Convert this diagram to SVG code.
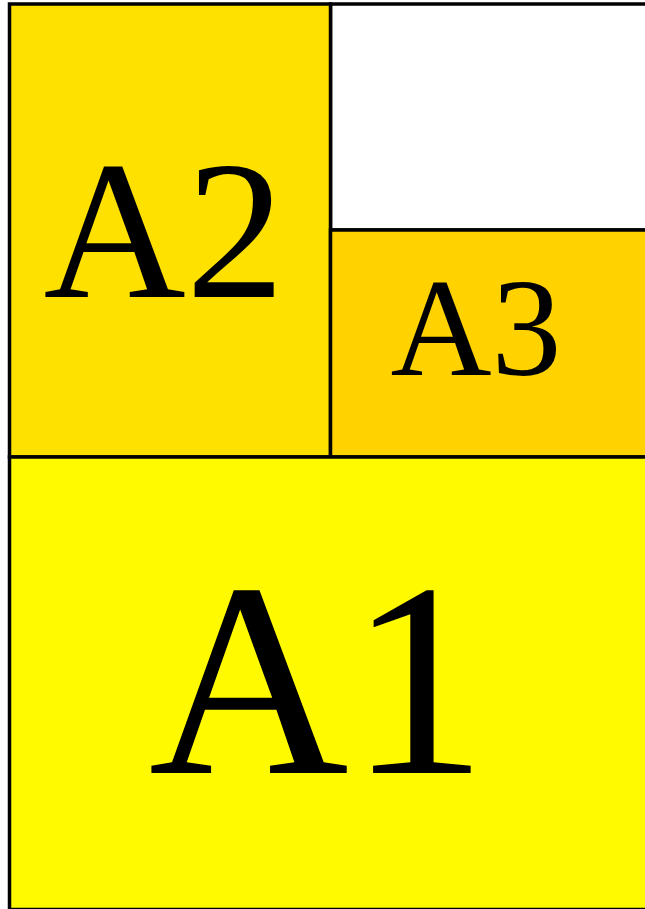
<svg xmlns="http://www.w3.org/2000/svg" width="645" height="909" viewBox="0 0 645 909">
<style>
.b{stroke:#000;stroke-width:3.5}
.t{font-family:"Liberation Serif","Times New Roman",serif;fill:#000;text-anchor:middle}
</style>
<rect width="645" height="909" fill="#fff"/>
<g id="blank"><rect class="b" x="330.5" y="4" width="320" height="226" fill="#fff"/></g>
<g id="A2"><rect class="b" x="9.5" y="4" width="321" height="453" fill="#FFE100"/><text class="t" x="164" y="297" font-size="197">A2</text></g>
<g id="A3"><rect class="b" x="330.5" y="230" width="320" height="227" fill="#FFD200"/><text class="t" x="476" y="375" font-size="140">A3</text></g>
<g id="A1"><rect class="b" x="9.5" y="457" width="640" height="452.5" fill="#FFFA00"/><text class="t" x="318" y="773" font-size="277">A1</text></g>
</svg>
